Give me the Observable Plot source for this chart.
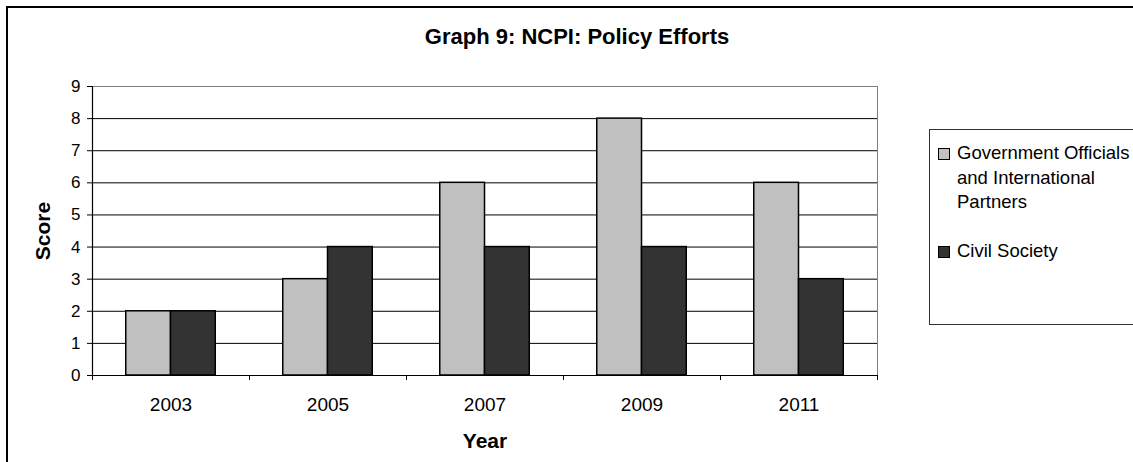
<!DOCTYPE html>
<html>
<head>
<meta charset="utf-8">
<script src="https://cdn.jsdelivr.net/npm/d3@7"></script>
<script src="https://cdn.jsdelivr.net/npm/@observablehq/plot@0.6"></script>
<style>
  html, body { margin: 0; padding: 0; background: #fff; }
  #wrap { position: relative; width: 1133px; height: 462px; overflow: hidden; font-family: "Liberation Sans", Arial, sans-serif; }
  #border { position: absolute; left: 6px; top: 6px; width: 1300px; height: 700px; border-left: 2px solid #000; border-top: 2px solid #000; }
  #chart { position: absolute; left: 0; top: 0; }
  #legend { position: absolute; left: 929px; top: 129px; width: 260px; height: 194px; border: 1px solid #333; background: #fff; font-size: 18.5px; line-height: 24.5px; color: #000; }
  .item { position: absolute; left: 27px; width: 185px; }
  .sw { position: absolute; left: -19px; top: 7px; width: 10px; height: 10px; border: 1px solid #000; }
</style>
</head>
<body>
<div id="wrap">
  <div id="border"></div>
  <div id="chart"></div>
  <div id="legend"></div>
</div>
<script>
const years = ["2003", "2005", "2007", "2009", "2011"];
const gov = [2, 3, 6, 8, 6];
const civil = [2, 4, 4, 4, 3];
const yTicks = [0, 1, 2, 3, 4, 5, 6, 7, 8, 9];
const seriesNames = ["Government Officials and International Partners", "Civil Society"];
const seriesColors = ["#C0C0C0", "#333333"];

const rows = years.map((year, i) => ({year, i, gov: gov[i], civil: civil[i]}));

const chart = Plot.plot({
  width: 1133,
  height: 462,
  marginLeft: 92,
  marginRight: 256,
  marginTop: 86,
  marginBottom: 87,
  style: {fontFamily: "'Liberation Sans', Arial, sans-serif", fontSize: "17px", color: "#000", background: "transparent", overflow: "visible"},
  x: {type: "linear", domain: [0, years.length]},
  y: {domain: [0, 9]},
  marks: [
    Plot.frame({stroke: "#808080"}),
    Plot.ruleY(yTicks.filter(t => t < 9), {stroke: "#000", strokeWidth: 1}),
    Plot.ruleX([0], {stroke: "#000", strokeWidth: 1.2}),
    Plot.rect(rows, {x1: d => d.i + 0.215, x2: d => d.i + 0.5, y1: 0, y2: "gov", fill: seriesColors[0], stroke: "#000", strokeWidth: 1.5}),
    Plot.rect(rows, {x1: d => d.i + 0.5, x2: d => d.i + 0.785, y1: 0, y2: "civil", fill: seriesColors[1], stroke: "#000", strokeWidth: 1.5}),
    Plot.axisY({ticks: yTicks, tickSize: 5, tickPadding: 7, fontSize: 17, label: null}),
    Plot.axisX({ticks: d3.range(0, years.length + 1), tickSize: 5, tickFormat: () => "", label: null}),
    Plot.axisX({ticks: years.map((_, i) => i + 0.5), tickSize: 0, tickPadding: 22, tickFormat: t => years[Math.floor(t)], fontSize: 19, label: null}),
    Plot.text(["Graph 9: NCPI: Policy Efforts"], {frameAnchor: "top", lineAnchor: "middle", textAnchor: "middle", dx: 92, dy: -50, fontWeight: "bold", fontSize: 22}),
    Plot.text(["Score"], {frameAnchor: "left", lineAnchor: "middle", textAnchor: "middle", dx: -49, rotate: -90, fontWeight: "bold", fontSize: 21}),
    Plot.text(["Year"], {frameAnchor: "bottom", lineAnchor: "middle", textAnchor: "middle", dy: 66, fontWeight: "bold", fontSize: 21})
  ]
});
document.getElementById("chart").appendChild(chart);

const legend = document.getElementById("legend");
const tops = [11, 109];
seriesNames.forEach((name, k) => {
  const item = document.createElement("div");
  item.className = "item";
  item.style.top = tops[k] + "px";
  const sw = document.createElement("span");
  sw.className = "sw";
  sw.style.background = seriesColors[k];
  item.appendChild(sw);
  item.appendChild(document.createTextNode(name));
  legend.appendChild(item);
});
</script>
</body>
</html>
